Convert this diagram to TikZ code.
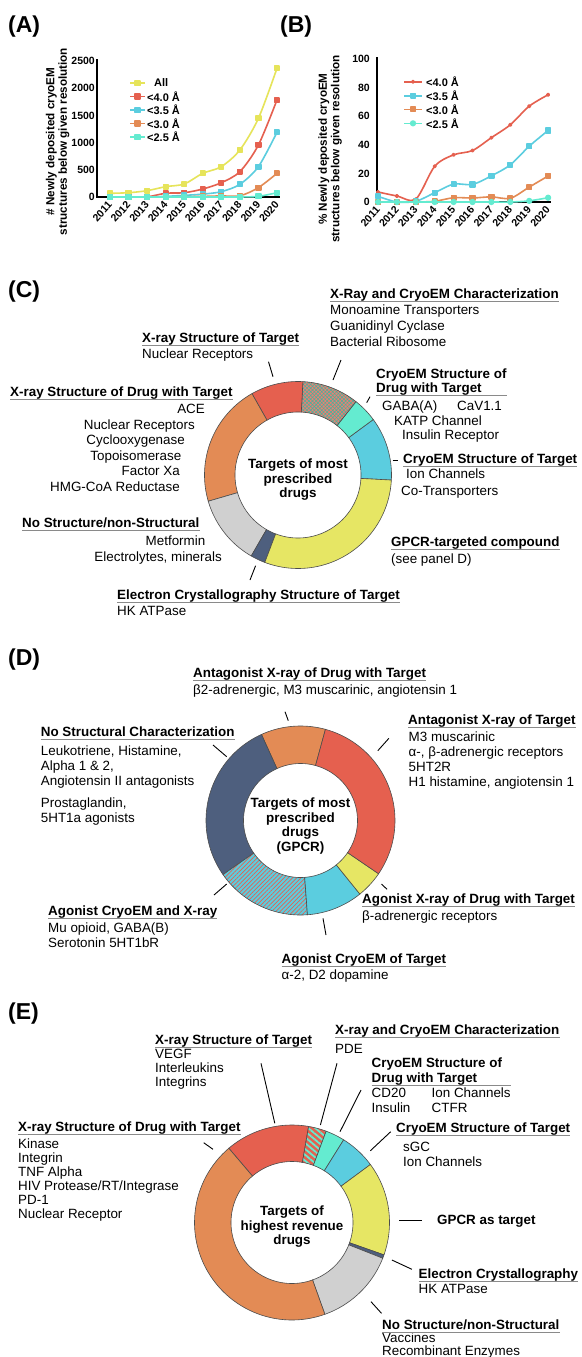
\documentclass[tikz,border=0pt]{standalone}
\usepackage{fontspec}
\setmainfont{Liberation Sans}
\usetikzlibrary{plotmarks,patterns.meta}

\definecolor{cRed}{HTML}{E5604F}
\definecolor{cOrg}{HTML}{E38B55}
\definecolor{cYel}{HTML}{E6E664}
\definecolor{cYelA}{HTML}{E6E45A}
\definecolor{cBlue}{HTML}{5BCDDF}
\definecolor{cTurq}{HTML}{64EBD0}
\definecolor{cGray}{HTML}{D0D0D0}
\definecolor{cNavy}{HTML}{4E5F7E}
\definecolor{ulgray}{HTML}{8A8A8A}

\newcommand\fHead{\fontsize{13.4}{15}\selectfont\bfseries}
\newcommand\fText{\fontsize{13.4}{15}\selectfont}
\newcommand\fCtr{\fontsize{13.4}{14.5}\selectfont\bfseries}
\newcommand\fAxis{\fontsize{10.5}{12}\selectfont\bfseries}
\newcommand\fLeg{\fontsize{11}{13}\selectfont\bfseries}
\newcommand\fPanel{\fontsize{23}{26}\selectfont\bfseries}
\newcommand\fYlab{\fontsize{11.7}{12.5}\selectfont\bfseries}

\newcommand\ringseg[7]{\path[#7] plot[domain=#5:#6,samples=60,variable=\myang] ({#1+#3*cos(\myang)},{#2-#3*sin(\myang)}) -- plot[domain=#6:#5,samples=60,variable=\myang] ({#1+#4*cos(\myang)},{#2-#4*sin(\myang)}) -- cycle;}

\begin{document}
\begin{tikzpicture}[x=1pt,y=-1pt,
  head/.style={font=\fHead, inner sep=0pt, anchor=base west},
  item/.style={font=\fText, inner sep=0pt, anchor=base west},
  itemr/.style={font=\fText, inner sep=0pt, anchor=base east},
  ctr/.style={font=\fCtr, inner sep=0pt, align=center},
  uline/.style={draw=ulgray, line width=1.2pt},
  conn/.style={draw=black, line width=0.9pt},
  seg/.style={draw=black!70, line width=0.6pt},
  panel/.style={font=\fPanel, inner sep=0pt, anchor=west},
  tk/.style={font=\fAxis, inner sep=0pt, anchor=east},
  yrlab/.style={font=\fAxis, inner sep=0pt, rotate=48, anchor=east},
  ylab/.style={font=\fYlab, inner sep=0pt, align=center, rotate=90},
  leg/.style={font=\fLeg, inner sep=0pt, anchor=west},
  axisline/.style={draw=black, line width=1.5pt},
  ser/.style={line width=1.6pt, line join=round, mark size=2.3pt, mark options={solid}},
  hatchC/.style={fill=cRed!80!white, postaction={pattern={Hatch[angle=45,distance=2.6pt,line width=0.55pt]}, pattern color=cTurq!75!black}, postaction={seg}},
  hatchD/.style={fill=cBlue, postaction={pattern={Lines[angle=45,distance=3pt,line width=0.7pt]}, pattern color=cRed}, postaction={seg}},
  hatchE/.style={fill=cRed, postaction={pattern={Lines[angle=-40,distance=4.5pt,line width=1.8pt]}, pattern color=cTurq}, postaction={seg}},
]
\useasboundingbox (0,0) rectangle (581,1357);
\fill[white] (0,0) rectangle (581,1357);

% ---------------- panel labels
\node[panel] (pA) at (8,26.5) {(A)};
\node[panel] (pB) at (280,26.5) {(B)};
\node[panel] (pC) at (8,292) {(C)};
\node[panel] (pD) at (8,660) {(D)};
\node[panel] (pE) at (8,1014) {(E)};

% ---------------- chart A
\draw[axisline] (97,59) -- (97,197) -- (280,197);
\foreach \v/\yy in {2500/61,2000/88.2,1500/115.4,1000/142.6,500/169.8,0/197}
  \node[tk] (at\v) at (95,\yy) {\v};
\foreach \i in {0,...,9}{
  \pgfmathtruncatemacro\yr{2011+\i}
  \node[yrlab] (ya\i) at ({110+18.55*\i},203) {\yr};}
\node[ylab] (yla) at (57.5,141.5) {\# Newly deposited cryoEM\\structures below given resolution};
\begin{scope}[shift={(110,197)}, x=18.55pt, y=0.0544pt]
  \draw[ser, color=cYelA] plot[smooth, tension=0.5, mark=square*] coordinates {(0,68)(1,79)(2,116)(3,190)(4,239)(5,435)(6,558)(7,864)(8,1446)(9,2365)};
  \draw[ser, color=cRed] plot[smooth, tension=0.5, mark=square*] coordinates {(0,2)(1,2)(2,3)(3,68)(4,79)(5,147)(6,263)(7,466)(8,956)(9,1783)};
  \draw[ser, color=cBlue] plot[smooth, tension=0.5, mark=square*] coordinates {(0,4)(1,0)(2,0)(3,12)(4,30)(5,53)(6,98)(7,233)(8,558)(9,1189)};
  \draw[ser, color=cOrg] plot[smooth, tension=0.5, mark=square*] coordinates {(0,0)(1,0)(2,0)(3,1)(4,6)(5,11)(6,20)(7,22)(8,172)(9,435)};
  \draw[ser, color=cTurq] plot[smooth, tension=0.5, mark=square*] coordinates {(0,0)(1,0)(2,0)(3,0)(4,0)(5,0)(6,0)(7,0)(8,12)(9,79)};
\end{scope}
% legend A
\draw[ser, color=cYelA] (130,83) -- (145,83);
\path[ser, color=cYelA] plot[mark=square*] coordinates {(137.5,83)};
\node[leg] (la1) at (154,83) {All};
\draw[ser, color=cRed] (130,96.5) -- (145,96.5);
\path[ser, color=cRed] plot[mark=square*] coordinates {(137.5,96.5)};
\node[leg] (la2) at (147,96.5) {<4.0 Å};
\draw[ser, color=cBlue] (130,110) -- (145,110);
\path[ser, color=cBlue] plot[mark=square*] coordinates {(137.5,110)};
\node[leg] (la3) at (147,110) {<3.5 Å};
\draw[ser, color=cOrg] (130,123.5) -- (145,123.5);
\path[ser, color=cOrg] plot[mark=square*] coordinates {(137.5,123.5)};
\node[leg] (la4) at (147,123.5) {<3.0 Å};
\draw[ser, color=cTurq] (130,137) -- (145,137);
\path[ser, color=cTurq] plot[mark=square*] coordinates {(137.5,137)};
\node[leg] (la5) at (147,137) {<2.5 Å};

% ---------------- chart B
\draw[axisline] (377,57) -- (377,202) -- (551,202);
\foreach \v/\yy in {100/59,80/87.6,60/116.2,40/144.8,20/173.4,0/202}
  \node[tk] (bt\v) at (370,\yy) {\v};
\foreach \i in {0,...,9}{
  \pgfmathtruncatemacro\yr{2011+\i}
  \node[yrlab] (yb\i) at ({378+18.9*\i},208) {\yr};}
\node[ylab] (ylb) at (330,149) {\% Newly deposited cryoEM\\structures below given resolution};
\begin{scope}[shift={(378,202)}, x=18.9pt, y=1.43pt]
  \draw[ser, color=cRed, mark size=1.3pt] plot[smooth, tension=0.5, mark=*] coordinates {(0,7)(1,4.2)(2,2)(3,25)(4,33)(5,36)(6,45)(7,54)(8,67)(9,75)};
  \draw[ser, color=cBlue] plot[smooth, tension=0.5, mark=square*] coordinates {(0,4)(1,0)(2,0.5)(3,6.5)(4,12.5)(5,12.3)(6,18.3)(7,26)(8,39)(9,50)};
  \draw[ser, color=cOrg] plot[smooth, tension=0.5, mark=square*] coordinates {(0,0)(1,0)(2,0)(3,0.5)(4,3)(5,2.8)(6,3.6)(7,2.6)(8,10.4)(9,18.2)};
  \draw[ser, color=cTurq] plot[smooth, tension=0.5, mark=*] coordinates {(0,0)(1,0)(2,0)(3,0)(4,0)(5,0)(6,0)(7,0)(8,0.8)(9,3)};
\end{scope}
% legend B
\draw[ser, color=cRed] (404,81.7) -- (422,81.7);
\path[ser, color=cRed, mark size=1.3pt] plot[mark=*] coordinates {(413,81.7)};
\node[leg] (lb1) at (426,81.7) {<4.0 Å};
\draw[ser, color=cBlue] (404,95.7) -- (422,95.7);
\path[ser, color=cBlue] plot[mark=square*] coordinates {(413,95.7)};
\node[leg] (lb2) at (426,95.7) {<3.5 Å};
\draw[ser, color=cOrg] (404,109.3) -- (422,109.3);
\path[ser, color=cOrg] plot[mark=square*] coordinates {(413,109.3)};
\node[leg] (lb3) at (426,109.3) {<3.0 Å};
\draw[ser, color=cTurq] (404,123.3) -- (422,123.3);
\path[ser, color=cTurq] plot[mark=*] coordinates {(413,123.3)};
\node[leg] (lb4) at (426,123.3) {<2.5 Å};

% ---------------- donut C
\ringseg{298}{475}{93.5}{63}{-3.1}{36.4}{seg, fill=cBlue}
\ringseg{298}{475}{93.5}{63}{36.4}{51.7}{seg, fill=cTurq}
\ringseg{298}{475}{93.5}{63}{51.7}{87}{hatchC}
\ringseg{298}{475}{93.5}{63}{87}{119.5}{seg, fill=cRed}
\ringseg{298}{475}{93.5}{63}{119.5}{196.3}{seg, fill=cOrg}
\ringseg{298}{475}{93.5}{63}{196.3}{240}{seg, fill=cGray}
\ringseg{298}{475}{93.5}{63}{240}{249.2}{seg, fill=cNavy}
\ringseg{298}{475}{93.5}{63}{249.2}{356.9}{seg, fill=cYel}
\node[ctr] (cctr) at (298,480) {Targets of most\\prescribed\\drugs};

\node[head] (c1h) at (330,298.5) {X-Ray and CryoEM Characterization};
\node[item] (c1a) at (330,314.5) {Monoamine Transporters};
\node[item] (c1b) at (330,330.5) {Guanidinyl Cyclase};
\node[item] (c1c) at (330,346.5) {Bacterial Ribosome};
\node[head] (c2h) at (142,342.8) {X-ray Structure of Target};
\node[item] (c2a) at (142,358.5) {Nuclear Receptors};
\node[head] (c3h1) at (376,378.5) {CryoEM Structure of};
\node[head] (c3h2) at (376,392.5) {Drug with Target};
\node[item] (c3a) at (382,410.2) {GABA(A)};
\node[item] (c3b) at (457,410.2) {CaV1.1};
\node[item] (c3c) at (394,425.2) {KATP Channel};
\node[item] (c3d) at (402,439.8) {Insulin Receptor};
\node[head] (c4h) at (10,396.8) {X-ray Structure of Drug with Target};
\node[itemr] (c4a) at (205,413.5) {ACE};
\node[itemr] (c4b) at (195,429) {Nuclear Receptors};
\node[itemr] (c4c) at (185,444.5) {Cyclooxygenase};
\node[itemr] (c4d) at (181.5,460) {Topoisomerase};
\node[itemr] (c4e) at (180,475.5) {Factor Xa};
\node[itemr] (c4f) at (180,491) {HMG-CoA Reductase};
\node[head] (c5h) at (403,463.5) {CryoEM Structure of Target};
\node[item] (c5a) at (406,478.5) {Ion Channels};
\node[item] (c5b) at (401,495) {Co-Transporters};
\node[head] (c6h) at (22,527.8) {No Structure/non-Structural};
\node[itemr] (c6a) at (205.5,545.2) {Metformin};
\node[itemr] (c6b) at (222,561.2) {Electrolytes, minerals};
\node[head] (c7h) at (391,546.8) {GPCR-targeted compound};
\node[item] (c7a) at (391,563.5) {(see panel D)};
\node[head] (c8h) at (117,599.5) {Electron Crystallography Structure of Target};
\node[item] (c8a) at (117,615.5) {HK ATPase};

\foreach \n in {c1h,c2h,c4h,c5h,c6h,c7h,c8h}
  \draw[uline] ([yshift=-3pt]\n.base west) -- ([yshift=-3pt]\n.base east);
\coordinate (c3u) at ([yshift=-3pt]c3h2.base west);
\draw[uline] (c3u) -- (c3u -| c3h1.east);

\coordinate (kc1a) at (341,360); \coordinate (kc1b) at (333,380);
\coordinate (kc2a) at (268.5,361.7); \coordinate (kc2b) at (273,376.7);
\coordinate (kc3a) at (370,396.7); \coordinate (kc3b) at (366.7,402.7);
\coordinate (kc5a) at (392.6,460.7); \coordinate (kc5b) at (398,460.7);
\coordinate (kc8a) at (255.6,565.7); \coordinate (kc8b) at (250,580);
\draw[conn] (kc1a) -- (kc1b);
\draw[conn] (kc2a) -- (kc2b);
\draw[conn] (kc3a) -- (kc3b);
\draw[conn] (kc5a) -- (kc5b);
\draw[conn] (kc8a) -- (kc8b);

% ---------------- donut D
\ringseg{300.5}{820.5}{94.5}{57}{74.7}{114.4}{seg, fill=cOrg}
\ringseg{300.5}{820.5}{94.5}{57}{114.4}{214.9}{seg, fill=cNavy}
\ringseg{300.5}{820.5}{94.5}{57}{214.9}{274.2}{hatchD}
\ringseg{300.5}{820.5}{94.5}{57}{274.2}{308.9}{seg, fill=cBlue}
\ringseg{300.5}{820.5}{94.5}{57}{308.9}{325.7}{seg, fill=cYel}
\ringseg{300.5}{820.5}{94.5}{57}{325.7}{434.7}{seg, fill=cRed}
\node[ctr] (dctr) at (300.5,826) {Targets of most\\prescribed\\drugs\\(GPCR)};

\node[head] (d1h) at (193,677.5) {Antagonist X-ray of Drug with Target};
\node[item] (d1a) at (193,694.5) {β2-adrenergic, M3 muscarinic, angiotensin 1};
\node[head] (d2h) at (408,724.5) {Antagonist X-ray of Target};
\node[item] (d2a) at (408.5,741) {M3 muscarinic};
\node[item] (d2b) at (408.5,756) {α-, β-adrenergic receptors};
\node[item] (d2c) at (408.5,771) {5HT2R};
\node[item] (d2d) at (408.5,786) {H1 histamine, angiotensin 1};
\node[head] (d3h) at (40.7,736.8) {No Structural Characterization};
\node[item] (d3a) at (40.7,755) {Leukotriene, Histamine,};
\node[item] (d3b) at (40.7,770) {Alpha 1 \& 2,};
\node[item] (d3c) at (40.7,785) {Angiotensin II antagonists};
\node[item] (d3d) at (40.7,807) {Prostaglandin,};
\node[item] (d3e) at (40.7,822) {5HT1a agonists};
\node[head] (d4h) at (48,915.2) {Agonist CryoEM and X-ray};
\node[item] (d4a) at (48,932) {Mu opioid, GABA(B)};
\node[item] (d4b) at (48,947) {Serotonin 5HT1bR};
\node[head] (d5h) at (362,903.8) {Agonist X-ray of Drug with Target};
\node[item] (d5a) at (362,920.5) {β-adrenergic receptors};
\node[head] (d6h) at (281.5,963.8) {Agonist CryoEM of Target};
\node[item] (d6a) at (281.5,979) {α-2, D2 dopamine};

\foreach \n in {d1h,d2h,d3h,d4h,d5h,d6h}
  \draw[uline] ([yshift=-3pt]\n.base west) -- ([yshift=-3pt]\n.base east);

\coordinate (kd1a) at (285,711.7); \coordinate (kd1b) at (288.3,720.7);
\coordinate (kd2a) at (388.9,738.3); \coordinate (kd2b) at (377.8,750.7);
\coordinate (kd3a) at (213,745); \coordinate (kd3b) at (226.7,756.7);
\coordinate (kd4a) at (214,895); \coordinate (kd4b) at (226.7,884);
\coordinate (kd5a) at (381.5,884); \coordinate (kd5b) at (387,889.3);
\coordinate (kd6a) at (323,918.3); \coordinate (kd6b) at (326,935);
\draw[conn] (kd1a) -- (kd1b);
\draw[conn] (kd2a) -- (kd2b);
\draw[conn] (kd3a) -- (kd3b);
\draw[conn] (kd4a) -- (kd4b);
\draw[conn] (kd5a) -- (kd5b);
\draw[conn] (kd6a) -- (kd6b);

% ---------------- donut E
\ringseg{292}{1222.5}{97.5}{61}{80.2}{130.4}{seg, fill=cRed}
\ringseg{292}{1222.5}{97.5}{61}{69.5}{80.2}{hatchE}
\ringseg{292}{1222.5}{97.5}{61}{58}{69.5}{seg, fill=cTurq}
\ringseg{292}{1222.5}{97.5}{61}{36.5}{58}{seg, fill=cBlue}
\ringseg{292}{1222.5}{97.5}{61}{-19.4}{36.5}{seg, fill=cYel}
\ringseg{292}{1222.5}{97.5}{61}{-21.5}{-19.4}{seg, fill=cNavy}
\ringseg{292}{1222.5}{97.5}{61}{-70.3}{-21.5}{seg, fill=cGray}
\ringseg{292}{1222.5}{97.5}{61}{130.4}{289.7}{seg, fill=cOrg}
\node[ctr] (ectr) at (292,1227) {Targets of\\highest revenue\\drugs};

\node[head] (e1h) at (155,1044.5) {X-ray Structure of Target};
\node[item] (e1a) at (155,1058.5) {VEGF};
\node[item] (e1b) at (155,1072.8) {Interleukins};
\node[item] (e1c) at (155,1086.8) {Integrins};
\node[head] (e2h) at (335,1034.5) {X-ray and CryoEM Characterization};
\node[item] (e2a) at (335,1053.5) {PDE};
\node[head] (e3h1) at (371.5,1067.8) {CryoEM Structure of};
\node[head] (e3h2) at (371.5,1082.8) {Drug with Target};
\node[item] (e3a) at (371.5,1097.8) {CD20};
\node[item] (e3b) at (431.5,1097.8) {Ion Channels};
\node[item] (e3c) at (371.5,1112.2) {Insulin};
\node[item] (e3d) at (431.5,1112.2) {CTFR};
\node[head] (e4h) at (396,1132.8) {CryoEM Structure of Target};
\node[item] (e4a) at (403,1151.8) {sGC};
\node[item] (e4b) at (403,1166.8) {Ion Channels};
\node[head] (e5h) at (18,1131.2) {X-ray Structure of Drug with Target};
\node[item] (e5a) at (18,1148.8) {Kinase};
\node[item] (e5b) at (18,1162.8) {Integrin};
\node[item] (e5c) at (18,1176.8) {TNF Alpha};
\node[item] (e5d) at (18,1190.8) {HIV Protease/RT/Integrase};
\node[item] (e5e) at (18,1204.8) {PD-1};
\node[item] (e5f) at (18,1218.8) {Nuclear Receptor};
\node[head] (e6h) at (437,1224.5) {GPCR as target};
\node[head] (e7h) at (418.5,1278.8) {Electron Crystallography};
\node[item] (e7a) at (418.5,1293.5) {HK ATPase};
\node[head] (e8h) at (382,1329.5) {No Structure/non-Structural};
\node[item] (e8a) at (382,1342.8) {Vaccines};
\node[item] (e8b) at (382,1355.5) {Recombinant Enzymes};

\foreach \n in {e1h,e2h,e4h,e5h,e7h,e8h}
  \draw[uline] ([yshift=-3pt]\n.base west) -- ([yshift=-3pt]\n.base east);
\coordinate (e3u) at ([yshift=-3pt]e3h2.base west);
\draw[uline] (e3u) -- ([xshift=9pt]e3u -| e3h1.east);

\coordinate (ke1a) at (261,1063.3); \coordinate (ke1b) at (274.8,1123.3);
\coordinate (ke2a) at (337,1063.3); \coordinate (ke2b) at (320.4,1125);
\coordinate (ke3a) at (361,1090); \coordinate (ke3b) at (340,1131.7);
\coordinate (ke4a) at (390.7,1131.7); \coordinate (ke4b) at (370.4,1150.7);
\coordinate (ke5a) at (203.7,1142.7); \coordinate (ke5b) at (213,1149.3);
\coordinate (ke6a) at (399.3,1220); \coordinate (ke6b) at (422.2,1220);
\coordinate (ke7a) at (391.9,1260); \coordinate (ke7b) at (411.9,1269.3);
\coordinate (ke8a) at (371,1301.7); \coordinate (ke8b) at (381.5,1313.3);
\draw[conn] (ke1a) -- (ke1b);
\draw[conn] (ke2a) -- (ke2b);
\draw[conn] (ke3a) -- (ke3b);
\draw[conn] (ke4a) -- (ke4b);
\draw[conn] (ke5a) -- (ke5b);
\draw[conn] (ke6a) -- (ke6b);
\draw[conn] (ke7a) -- (ke7b);
\draw[conn] (ke8a) -- (ke8b);
\end{tikzpicture}
\end{document}
